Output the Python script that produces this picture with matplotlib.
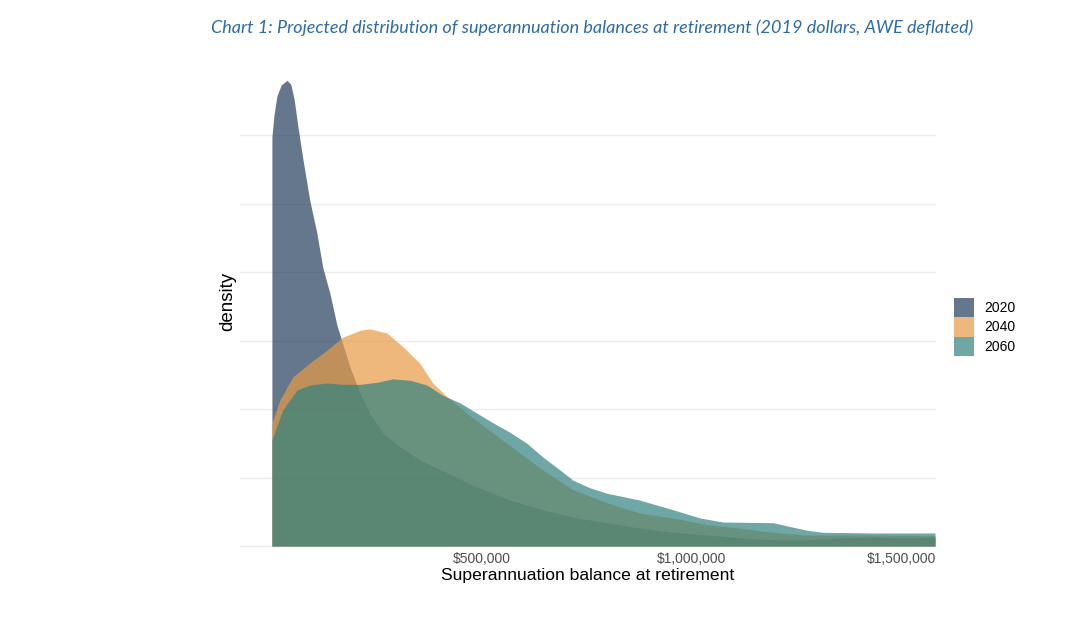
import numpy as np
import matplotlib
matplotlib.use("Agg")
import matplotlib.pyplot as plt
from matplotlib.patches import Patch

# Balance at retirement ($ thousands) and density (arbitrary units)
x_2020 = [0, 5, 12, 22, 36, 45, 53, 62, 74, 90, 107, 121, 138, 155, 186, 210, 233, 264,
          305, 352, 417, 488, 567, 645, 717, 798, 876, 955, 1036, 1114, 1193, 1274,
          1352, 1431, 1512, 1579]
y_2020 = [5.97, 6.30, 6.57, 6.73, 6.80, 6.74, 6.52, 6.12, 5.64, 5.05, 4.57, 4.07, 3.69,
          3.22, 2.61, 2.23, 1.94, 1.65, 1.45, 1.26, 1.07, 0.86, 0.67, 0.53, 0.42, 0.34,
          0.26, 0.20, 0.16, 0.12, 0.09, 0.09, 0.12, 0.13, 0.12, 0.13]

x_2040 = [0, 19, 50, 90, 131, 169, 210, 233, 274, 312, 352, 383, 417, 464, 526, 590,
          645, 717, 798, 876, 955, 1036, 1114, 1193, 1274, 1431, 1579]
y_2040 = [1.80, 2.13, 2.47, 2.67, 2.86, 3.05, 3.15, 3.17, 3.11, 2.91, 2.67, 2.38, 2.18,
          1.94, 1.65, 1.36, 1.11, 0.82, 0.63, 0.48, 0.41, 0.31, 0.26, 0.20, 0.16, 0.16,
          0.15]

x_2060 = [0, 26, 60, 90, 131, 169, 210, 250, 288, 329, 369, 407, 448, 488, 526, 567,
          607, 645, 686, 717, 757, 798, 876, 955, 1019, 1074, 1193, 1274, 1312, 1431,
          1579]
y_2060 = [1.55, 1.99, 2.28, 2.35, 2.38, 2.36, 2.36, 2.39, 2.44, 2.42, 2.35, 2.20, 2.09,
          1.94, 1.80, 1.66, 1.50, 1.30, 1.11, 0.96, 0.85, 0.77, 0.67, 0.53, 0.41, 0.35,
          0.34, 0.23, 0.20, 0.19, 0.19]

years = ["2020", "2040", "2060"]
colors = ["#223e5b", "#e79b45", "#308280"]

tick_vals = [500000, 1000000, 1500000]
tick_labels = ["$500,000", "$1,000,000", "$1,500,000"]

fig = plt.figure(figsize=(10.77, 6.36), dpi=100)
ax = fig.add_axes([240 / 1077, 1 - 546 / 636, 695 / 1077, 489 / 636])

series = [(x_2020, y_2020), (x_2040, y_2040), (x_2060, y_2060)]
for (xs, ys), c in zip(series, colors):
    ax.fill_between(np.array(xs) * 1000, ys, 0, color=c, alpha=0.7, lw=0, zorder=2)

# horizontal grid only
for g in range(0, 7):
    ax.axhline(g, color="#ebebeb", lw=1, zorder=1, clip_on=False)

ax.set_xlim(-76000, 1579000)
ax.set_ylim(0, 7.14)
ax.set_xticks(tick_vals)
ax.set_xticklabels(tick_labels, fontsize=10, color="#4d4d4d", family="Liberation Sans")
ax.set_yticks([])
ax.tick_params(axis="x", length=0, pad=4)
for s in ax.spines.values():
    s.set_visible(False)

ax.set_xlabel("Superannuation balance at retirement", fontsize=12.6,
              family="Liberation Sans", labelpad=2)
ax.set_ylabel("density", fontsize=13.5, family="Liberation Sans", labelpad=3)

fig.text(592 / 1077, 1 - 28 / 636,
         "Chart 1: Projected distribution of superannuation balances at retirement (2019 dollars, AWE deflated)",
         ha="center", va="center", fontsize=13, style="italic", color="#2e6aa6",
         family="Lato")

handles = [Patch(facecolor=c, alpha=0.7, edgecolor="none") for c in colors]
fig.legend(handles, years, loc="center left", bbox_to_anchor=(954 / 1077, 1 - 327 / 636),
           frameon=False, handlelength=1.45, handleheight=1.75,
           labelspacing=0.05, handletextpad=0.75, borderpad=0, borderaxespad=0,
           prop={"family": "Liberation Sans", "size": 10})

fig.savefig("out.png", dpi=100)
